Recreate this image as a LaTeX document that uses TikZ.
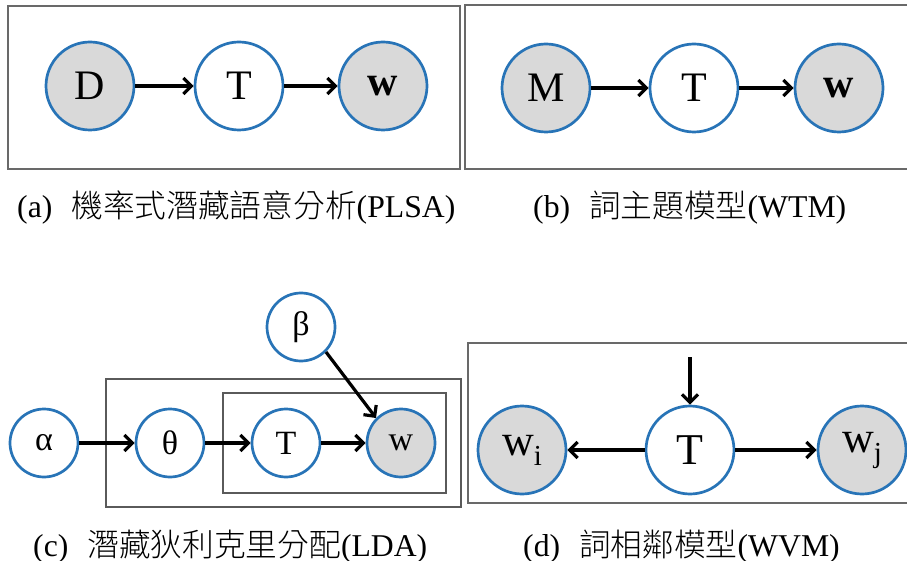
\documentclass[tikz,border=0pt]{standalone}
\usepackage{fontspec}
\setmainfont{Liberation Serif}
\newfontfamily\cjk{Noto Sans CJK TC Light}
\usetikzlibrary{arrows.meta}
\definecolor{nodeblue}{RGB}{40,116,183}
\definecolor{obsgray}{RGB}{217,217,217}
\definecolor{framegray}{RGB}{105,105,105}
\definecolor{plategray}{RGB}{90,90,90}
\newcommand{\subidx}[1]{\raisebox{-10pt}{\fontsize{29}{29}\selectfont #1}}
\begin{document}
\begin{tikzpicture}[x=1pt,y=-1pt,
 var/.style={circle, draw=nodeblue, line width=2.7pt, fill=white, minimum size=88pt, inner sep=0pt, font=\fontsize{42}{42}\selectfont},
 obs/.style={var, fill=obsgray},
 svar/.style={var, minimum size=68pt, font=\fontsize{34}{34}\selectfont},
 sobs/.style={svar, fill=obsgray},
 panelframe/.style={draw=framegray, line width=2.7pt},
 platebox/.style={draw=plategray, line width=2pt},
 link/.style={draw=black, line width=3.2pt, -{Straight Barb[length=8pt,width=16pt]}},
 captext/.style={anchor=base west, inner sep=0pt, font=\fontsize{31.7}{31.7}\selectfont}
]
\useasboundingbox (0,0) rectangle (907,561);
\clip (0,0) rectangle (907,561);

% (a)
\draw[panelframe] (8,6) rectangle (460,169);
\node[obs] (aD) at (90,86) {D};
\node[var] (aT) at (239,86) {T};
\node[obs] (aW) at (383,86) {\textbf{w}};
\draw[link] (aD) -- (aT);
\draw[link] (aT) -- (aW);
\node[captext] (capa) at (17,218) {(a)\hspace{0.6em}{\cjk 機率式潛藏語意分析}(PLSA)};

% (b)
\draw[panelframe] (465,5) rectangle (915,169);
\node[obs] (bM) at (546,88) {M};
\node[var] (bT) at (694,88) {T};
\node[obs] (bW) at (839,88) {\textbf{w}};
\draw[link] (bM) -- (bT);
\draw[link] (bT) -- (bW);
\node[captext] (capb) at (533,218) {(b)\hspace{0.6em}{\cjk 詞主題模型}(WTM)};

% (c)
\draw[platebox] (106,379) rectangle (461,507);
\draw[platebox] (223,393) rectangle (446,493);
\node[svar] (cB) at (301,327) {β};
\node[svar] (cA) at (44,443) {α};
\node[svar] (cTh) at (170,443) {θ};
\node[svar] (cT) at (286,443) {T};
\node[sobs] (cW) at (401,443) {w};
\draw[link] (cA) -- (cTh);
\draw[link] (cTh) -- (cT);
\draw[link] (cT) -- (cW);
\draw[link] (cB.-45) -- (cW.135);
\node[captext] (capc) at (33,556) {(c)\hspace{0.6em}{\cjk 潛藏狄利克里分配}(LDA)};

% (d)
\draw[panelframe] (468,343) rectangle (915,503);
\node[obs, font=\fontsize{44}{44}\selectfont] (dWi) at (522,450) {w\subidx{i}};
\node[var, font=\fontsize{44}{44}\selectfont] (dT) at (690,450) {T};
\node[obs, font=\fontsize{44}{44}\selectfont] (dWj) at (862,450) {w\subidx{j}};
\coordinate (dTop) at (690,357);
\draw[link] (dTop) -- (dT);
\draw[link] (dT) -- (dWi);
\draw[link] (dT) -- (dWj);
\node[captext] (capd) at (523,556) {(d)\hspace{0.6em}{\cjk 詞相鄰模型}(WVM)};
\end{tikzpicture}
\end{document}
